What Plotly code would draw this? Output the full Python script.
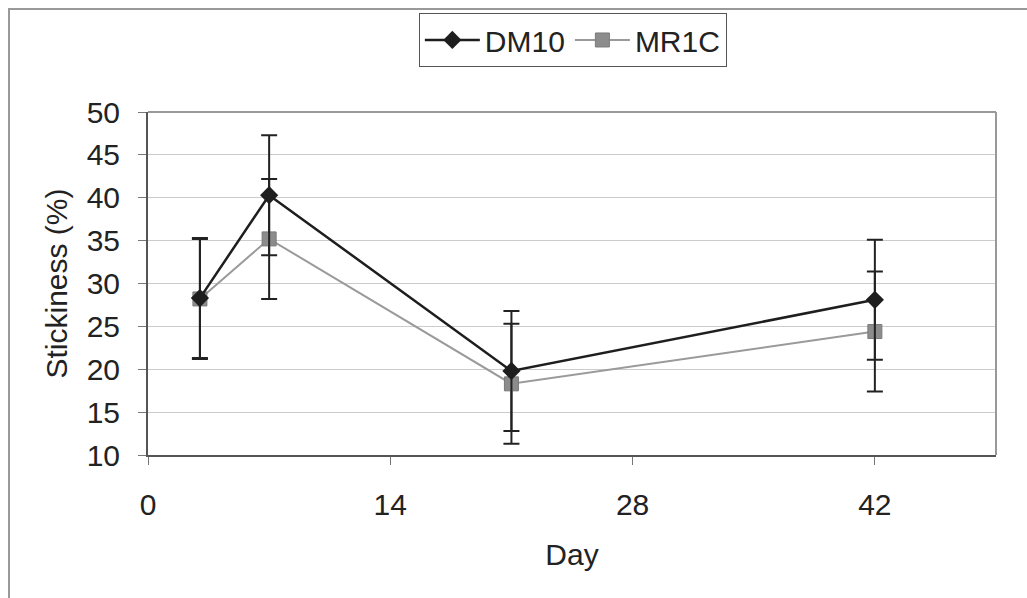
import plotly.graph_objects as go

days = [3, 7, 21, 42]
dm10 = [28.3, 40.3, 19.8, 28.1]
mr1c = [28.2, 35.2, 18.3, 24.4]
dm10_err = [7, 7, 7, 7]
mr1c_err = [7, 7, 7, 7]
x_ticks = [0, 14, 28, 42]
y_ticks = [10, 15, 20, 25, 30, 35, 40, 45, 50]

W, H = 1027, 598
L, R, T, B = 148, 31, 112, 143
pw, ph = W - L - R, H - T - B
FS = 30

fig = go.Figure()
fig.add_trace(go.Scatter(
    x=days, y=mr1c, name="MR1C", mode="lines+markers",
    line=dict(color="#9a9a9a", width=2),
    marker=dict(symbol="square", size=14, color="#8c8c8c", line=dict(color="#7a7a7a", width=1)),
    error_y=dict(type="data", array=mr1c_err, color="#222222", thickness=2, width=8),
    showlegend=False,
))
fig.add_trace(go.Scatter(
    x=days, y=dm10, name="DM10", mode="lines+markers",
    line=dict(color="#1e1e1e", width=2.5),
    marker=dict(symbol="diamond", size=14, color="#1e1e1e"),
    error_y=dict(type="data", array=dm10_err, color="#222222", thickness=2, width=8),
))
# legend-only entry for MR1C so that order is DM10, MR1C
fig.add_trace(go.Scatter(
    x=[None], y=[None], name="MR1C", mode="lines+markers",
    line=dict(color="#9a9a9a", width=2),
    marker=dict(symbol="square", size=14, color="#8c8c8c", line=dict(color="#7a7a7a", width=1)),
))

fig.update_layout(
    width=W, height=H,
    margin=dict(l=L, r=R, t=T, b=B, autoexpand=False),
    paper_bgcolor="white", plot_bgcolor="white",
    font=dict(family="Liberation Sans, Arial, sans-serif", color="#222222"),
    legend=dict(
        orientation="h", x=0.501, xanchor="center", y=1.21, yanchor="middle",
        font=dict(size=FS, color="#222222"),
        bordercolor="#555555", borderwidth=1, bgcolor="white",
        itemwidth=55, traceorder="normal",
    ),
    xaxis=dict(
        range=[0, 49], tickvals=x_ticks, ticktext=[str(v) for v in x_ticks],
        showgrid=False, zeroline=False,
        showline=True, linecolor="#555555", linewidth=2, mirror=False,
        ticks="outside", ticklen=8, tickcolor="#777777", tickwidth=1,
        ticklabelstandoff=14,
        tickfont=dict(size=FS, color="#222222"),
        title=dict(text="Day", font=dict(size=FS, color="#222222"), standoff=24),
    ),
    yaxis=dict(
        range=[10, 50], tickvals=y_ticks,
        showgrid=True, gridcolor="#cccccc", gridwidth=1, zeroline=False,
        showline=True, linecolor="#555555", linewidth=2, mirror=False,
        ticks="outside", ticklen=8, tickcolor="#777777", tickwidth=1,
        ticklabelstandoff=12,
        tickfont=dict(size=FS, color="#222222"),
        title=dict(text="Stickiness (%)", font=dict(size=FS, color="#222222"), standoff=10),
    ),
)

# plot area right/top border (lighter)
fig.add_shape(type="line", xref="paper", yref="paper", x0=0, x1=1, y0=1, y1=1,
              line=dict(color="#999999", width=2), layer="above")
fig.add_shape(type="line", xref="paper", yref="paper", x0=1, x1=1, y0=0, y1=1,
              line=dict(color="#999999", width=2), layer="above")

# outer chart border
def px2x(px):
    return (px - L) / pw

def py2y(py):
    return (H - B - py) / ph

fig.add_shape(type="rect", xref="paper", yref="paper",
              x0=px2x(9), x1=px2x(1040), y0=py2y(9), y1=py2y(620),
              line=dict(color="#999999", width=2), layer="below")

fig.write_html("out.html")
